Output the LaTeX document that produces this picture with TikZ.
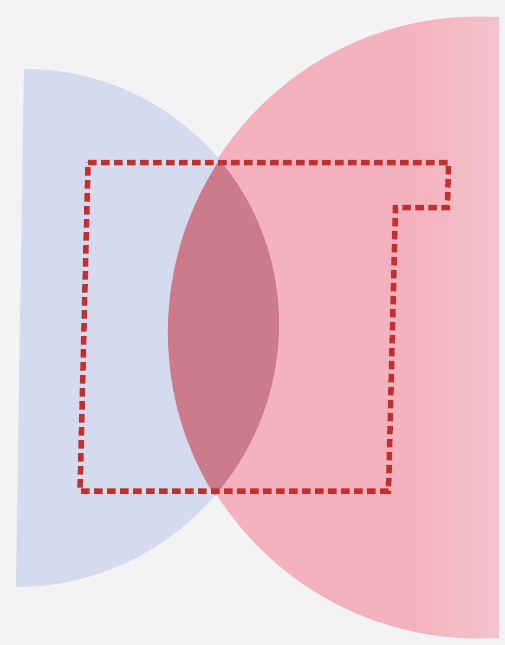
\documentclass[tikz,border=0pt]{standalone}
\definecolor{bg}{HTML}{F3F3F5}
\definecolor{blueA}{HTML}{D5DAEE}
\definecolor{pinkA}{HTML}{F4B2BE}
\definecolor{pinkB}{HTML}{F1E3EA}
\definecolor{lens}{HTML}{CD7A8B}
\definecolor{dashred}{HTML}{C1302F}
\pgfdeclarehorizontalshading{pinkfade}{100bp}{color(0bp)=(pinkA); color(62bp)=(pinkA); color(100bp)=(pinkB)}
\tikzset{
  outline/.style={dashred, line width=5.5pt, dash pattern=on 8.5pt off 4.5pt, line join=miter}
}
\begin{document}
\begin{tikzpicture}[x=1pt,y=1pt]
\fill[bg] (0,0) rectangle (505,-645);
\useasboundingbox (0,0) rectangle (505,-645);
% pink disc with fade, cut at the right edge
\begin{scope}
  \clip (479,-327.5) circle[radius=311];
  \shade[shading=pinkfade] (168,-10) rectangle (499,-645);
\end{scope}
\begin{scope}[shift={(5,0)}, xslant=0.0154]
  % blue half disc
  \fill[blueA] (20,-69) arc[start angle=90, end angle=-90, radius=259] -- cycle;
  % overlap
  \begin{scope}
    \clip (20,-69) arc[start angle=90, end angle=-90, radius=259] -- cycle;
    \fill[lens] (479,-327.5) circle[radius=311];
  \end{scope}
\end{scope}
\begin{scope}[shift={(8,0)}, xslant=0.0244]
  % dashed outline
  \draw[outline] (84,-162.5) coordinate (tl) -- (444.5,-162.5) coordinate (tr)
    -- (444.5,-207.5) coordinate (nr) -- (392.5,-207.5) coordinate (nl)
    -- (392.5,-491) coordinate (br) -- (84,-491) coordinate (bl) -- cycle;
\end{scope}
\end{tikzpicture}
\end{document}
